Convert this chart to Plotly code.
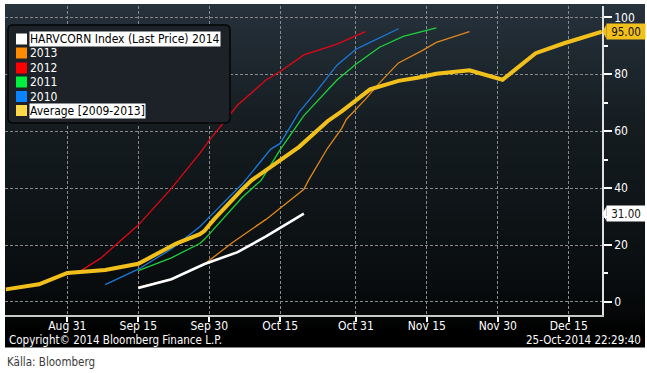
import plotly.graph_objects as go

# ---------------- data ----------------
avg_dates = ["2014-08-18", "2014-08-25", "2014-08-31", "2014-09-08", "2014-09-15", "2014-09-19",
             "2014-09-23", "2014-09-28", "2014-09-29", "2014-09-30", "2014-10-01", "2014-10-07",
             "2014-10-09", "2014-10-13", "2014-10-15", "2014-10-19", "2014-10-25", "2014-10-28",
             "2014-11-03", "2014-11-09", "2014-11-13", "2014-11-17", "2014-11-24", "2014-12-01",
             "2014-12-08", "2014-12-14", "2014-12-22"]
avg_vals = [4.4, 6.2, 10.2, 11.2, 13.4, 17.0, 20.5, 23.8, 25.0, 27.0, 29.0, 39.6,
            42.8, 47.5, 49.8, 54.5, 63.5, 67.0, 74.7, 77.7, 78.8, 80.2, 81.4, 78.1,
            87.4, 90.9, 95.0]

y2012_dates = ["2014-09-02", "2014-09-03", "2014-09-07", "2014-09-15", "2014-09-22", "2014-09-28",
               "2014-09-30", "2014-10-06", "2014-10-12", "2014-10-15", "2014-10-20", "2014-10-27",
               "2014-11-02"]
y2012_vals = [10.5, 11.1, 15.3, 27.0, 39.9, 52.2, 56.8, 69.2, 78.0, 81.0, 86.8, 90.6, 95.0]

y2010_dates = ["2014-09-08", "2014-09-15", "2014-09-22", "2014-09-28", "2014-09-30", "2014-10-07",
               "2014-10-13", "2014-10-15", "2014-10-19", "2014-10-23", "2014-10-27", "2014-10-31",
               "2014-11-03", "2014-11-09"]
y2010_vals = [6.1, 11.5, 18.6, 26.4, 29.8, 41.5, 53.7, 55.7, 66.7, 74.7, 83.2, 88.8, 91.2, 96.0]

y2011_dates = ["2014-09-15", "2014-09-22", "2014-09-28", "2014-09-29", "2014-10-07", "2014-10-11",
               "2014-10-15", "2014-10-20", "2014-10-27", "2014-10-31", "2014-11-05", "2014-11-10",
               "2014-11-17"]
y2011_vals = [11.0, 15.5, 20.5, 22.0, 36.8, 42.8, 53.5, 65.5, 78.0, 83.5, 89.5, 93.3, 96.3]

y2013_dates = ["2014-09-15", "2014-09-22", "2014-09-29", "2014-10-05", "2014-10-12", "2014-10-20",
               "2014-10-21", "2014-10-25", "2014-10-28", "2014-10-29", "2014-11-02", "2014-11-05",
               "2014-11-09", "2014-11-14", "2014-11-17", "2014-11-24"]
y2013_vals = [5.2, 8.0, 13.3, 21.0, 29.0, 39.6, 42.8, 54.0, 61.0, 64.2, 71.2, 77.0,
              84.0, 88.3, 91.2, 95.0]

y2014_dates = ["2014-09-15", "2014-09-22", "2014-09-29", "2014-10-06", "2014-10-12", "2014-10-20"]
y2014_vals = [4.9, 8.0, 13.3, 17.5, 23.0, 31.0]

x_tickvals = ["2014-08-31", "2014-09-15", "2014-09-30", "2014-10-15", "2014-10-31",
              "2014-11-15", "2014-11-30", "2014-12-15"]
x_ticktext = ["Aug 31", "Sep 15", "Sep 30", "Oct 15", "Oct 31", "Nov 15", "Nov 30", "Dec 15"]

legend_labels = ["HARVCORN Index (Last Price) 2014", "2013", "2012", "2011", "2010", "Average [2009-2013]"]
legend_colors = ["#ffffff", "#ff8c00", "#ff0000", "#00f040", "#0a84ff", "#ffd84a"]
legend_highlight = [True, False, False, False, False, True]

last_avg = avg_vals[-1]
last_2014 = y2014_vals[-1]

# ---------------- layout helpers ----------------
W, H = 647, 373
L, R, T, B = 5, 602, 6, 315
FONT = "DejaVu Sans Condensed, Liberation Sans Narrow, Liberation Sans, Arial, sans-serif"


def fx(px):
    return (px - L) / (R - L)


def fy(py):
    return (B - py) / (B - T)


fig = go.Figure()

line_specs = [
    (y2013_dates, y2013_vals, "#e0861c", 1.3),
    (y2012_dates, y2012_vals, "#e30613", 1.3),
    (y2011_dates, y2011_vals, "#1ed03c", 1.3),
    (y2010_dates, y2010_vals, "#1a7ad8", 1.3),
    (avg_dates, avg_vals, "#f2c01c", 4.0),
    (y2014_dates, y2014_vals, "#ffffff", 2.6),
]
for xs, ys, col, w in line_specs:
    fig.add_trace(go.Scatter(x=xs, y=ys, mode="lines", line=dict(color=col, width=w),
                             showlegend=False, hoverinfo="skip"))

shapes = []
# gradient background panel
stops = [(4, (38, 50, 61)), (40, (33, 43, 51)), (130, (20, 28, 32)),
         (270, (10, 14, 16)), (315, (5, 7, 8)), (330, (0, 0, 0)), (348, (0, 0, 0))]


def col_at(py):
    for (a, ca), (b, cb) in zip(stops[:-1], stops[1:]):
        if a <= py <= b:
            t = (py - a) / (b - a) if b > a else 0
            return tuple(round(ca[i] + (cb[i] - ca[i]) * t) for i in range(3))
    return stops[-1][1]


step = 4
py = 4
while py < 347:
    py2 = min(py + step, 347)
    c = col_at((py + py2) / 2)
    shapes.append(dict(type="rect", xref="paper", yref="paper", layer="below",
                       x0=fx(5), x1=fx(645), y0=fy(py2 + 0.5), y1=fy(py),
                       fillcolor=f"rgb{c}", line=dict(width=0)))
    py = py2

# legend box (rounded)
bx0, bx1, by0, by1 = 8, 230, 25, 123
rr = 5


def P(x, y):
    return f"{fx(x):.5f},{fy(y):.5f}"


path = (f"M {P(bx0 + rr, by0)} L {P(bx1 - rr, by0)} Q {P(bx1, by0)} {P(bx1, by0 + rr)} "
        f"L {P(bx1, by1 - rr)} Q {P(bx1, by1)} {P(bx1 - rr, by1)} L {P(bx0 + rr, by1)} "
        f"Q {P(bx0, by1)} {P(bx0, by1 - rr)} L {P(bx0, by0 + rr)} Q {P(bx0, by0)} {P(bx0 + rr, by0)} Z")
shapes.append(dict(type="path", xref="paper", yref="paper", path=path, layer="above",
                   fillcolor="#1c2227", line=dict(color="#050505", width=1.5)))

annotations = []
row_y = [39, 53, 68, 82, 96.5, 110.5]
for lab, colr, hl, ry in zip(legend_labels, legend_colors, legend_highlight, row_y):
    shapes.append(dict(type="rect", xref="paper", yref="paper", layer="above",
                       x0=fx(16), x1=fx(27), y0=fy(ry + 5.5), y1=fy(ry - 5.5),
                       fillcolor=colr, line=dict(width=0)))
    annotations.append(dict(xref="paper", yref="paper", x=fx(29), y=fy(ry), xanchor="left",
                            yanchor="middle", text=lab, showarrow=False,
                            font=dict(family=FONT, size=12, color="#000000" if hl else "#ffffff"),
                            bgcolor="#ffffff" if hl else "rgba(0,0,0,0)", borderpad=0))

# last-price labels on right axis
for val, bg in [(last_avg, "#f2c01c"), (last_2014, "#ffffff")]:
    annotations.append(dict(xref="paper", yref="y", x=fx(606), y=val, xanchor="left",
                            yanchor="middle", text=f"{val:.2f}", showarrow=False,
                            font=dict(family=FONT, size=11.5, color="#111111"),
                            bgcolor=bg, borderpad=1, width=36, height=13))
    shapes.append(dict(type="path", xref="paper", yref="y", layer="above",
                       path=f"M {fx(606.5):.5f},{val + 2.6} L {fx(602.5):.5f},{val} L {fx(606.5):.5f},{val - 2.6} Z",
                       fillcolor=bg, line=dict(width=0)))

# footer texts
annotations.append(dict(xref="paper", yref="paper", x=fx(7), y=fy(340), xanchor="left", yanchor="middle",
                        text="Copyright\u00a9 2014 Bloomberg Finance L.P.", showarrow=False,
                        font=dict(family=FONT, size=11.5, color="#ffffff")))
annotations.append(dict(xref="paper", yref="paper", x=fx(643), y=fy(340), xanchor="right", yanchor="middle",
                        text="25-Oct-2014 22:29:40", showarrow=False,
                        font=dict(family=FONT, size=11.5, color="#ffffff")))
annotations.append(dict(xref="paper", yref="paper", x=fx(5), y=fy(362), xanchor="left", yanchor="middle",
                        text="Källa: Bloomberg", showarrow=False,
                        font=dict(family=FONT, size=11.5, color="#3a3a3a")))

fig.update_layout(
    width=W, height=H,
    margin=dict(l=L, r=W - R, t=T, b=H - B, pad=0),
    paper_bgcolor="#ffffff", plot_bgcolor="rgba(0,0,0,0)",
    shapes=shapes, annotations=annotations,
    showlegend=False,
    xaxis=dict(type="date", range=["2014-08-17 19:40", "2014-12-22 00:40"],
               tickvals=x_tickvals, ticktext=x_ticktext,
               tickfont=dict(family=FONT, size=12, color="#ffffff"),
               ticks="outside", ticklen=5, tickcolor="#ffffff", tickwidth=1.5,
               ticklabelstandoff=-6,
               showgrid=True, gridcolor="#8a8a8a", gridwidth=1, griddash="3px,2px",
               showline=True, linecolor="#c8c8c8", linewidth=1.5, zeroline=False, fixedrange=True),
    yaxis=dict(side="right", range=[-4.6, 104], tick0=0, dtick=20,
               tickfont=dict(family=FONT, size=12, color="#ffffff"),
               ticks="outside", ticklen=8, tickcolor="#ffffff", tickwidth=1.5,
               minor=dict(dtick=10, ticks="outside", ticklen=4, tickcolor="#ffffff", showgrid=False),
               showgrid=True, gridcolor="#8a8a8a", gridwidth=1, griddash="3px,2px",
               showline=True, linecolor="#e0e0e0", linewidth=1.5, zeroline=False, fixedrange=True),
)

fig.write_html("out.html", config={"displayModeBar": False},
               post_script="document.body.style.margin='0';document.body.style.padding='0';")
